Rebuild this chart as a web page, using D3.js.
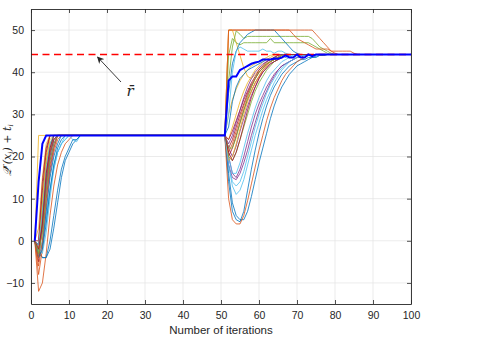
<!DOCTYPE html>
<html>
<head>
<meta charset="utf-8">
<script src="https://cdn.jsdelivr.net/npm/d3@7"></script>
<style>
  body { margin: 0; background: #fff; }
  svg { display: block; }
  text { font-family: "Liberation Sans", Arial, Helvetica, sans-serif; fill: #262626; }
</style>
</head>
<body>
<script>
// axis ticks
var xTicks = [0, 10, 20, 30, 40, 50, 60, 70, 80, 90, 100];
var yTicks = [-10, 0, 10, 20, 30, 40, 50];
var xLabel = "Number of iterations";

// reference level r-bar
var rBar = 44.2;
// level every agent holds after the first phase
var firstLevel = 25;
var phase2Start = 51;

// phase 1: values from iteration 1 until each run reaches 25
var phase1Runs = [
  [0, -2, -4, -4, -2, 3, 9, 15, 19, 21, 23, 24, 25],
  [0, -12, -10, -3, 6, 13, 18, 21, 23, 24, 25],
  [0, 25],
  [0, -1, 4, 12, 19, 23, 25],
  [0, -3, 6, 15, 21, 24, 25],
  [0, -2, -1, 5, 12, 18, 21, 23, 24, 25, 24, 23.5, 25],
  [0, -5, 5, 15, 21, 24, 25],
  [0, -3, -4, -4, 0, 6, 12, 17, 20, 22, 24, 24, 25],
  [0, -8, -2, 8, 16, 21, 24, 25],
  [0, -1, 10, 20, 25],
  [0, -2, 2, 10, 17, 22, 25],
  [0, -1, 8, 18, 23, 25],
  [0, -3, 0, 6, 12, 17, 21, 23, 24, 25],
  [0, -1, 12, 21, 25],
  [0, -4, -1, 7, 15, 20, 23, 25],
  [0, -6, 0, 10, 18, 22, 25],
  [0, 3, 15, 23, 25],
  [0, -2, 6, 16, 22, 25],
  [0, -1, 5, 14, 21, 25],
  [0, -2, -3, 2, 10, 17, 21, 23, 25],
  [0, 0, 14, 22, 25],
  [0, -4, -2, 4, 12, 18, 22, 24, 25],
  [0, -4, 4, 14, 21, 24, 25],
  [0, -2, 9, 19, 24, 25],
  [0, -1, 3, 13, 20, 24, 25],
  [0, -3, 2, 12, 19, 23, 25],
  [0, -1, 7, 17, 23, 25],
  [0, -2, 4, 16, 22, 25]
];

// phase 2: values from iteration 51 until each run reaches r-bar
var phase2Runs = [
  [25, 14, 7, 5, 4.5, 7, 12, 17, 21.5, 25.5, 29, 32, 34.5, 36.5, 38, 39.5, 40.5, 41.5, 42, 42.5, 43, 43, 43.5, 43.5, 43.8, 44, 44, 44.2],
  [25, 50, 50, 50, 50, 50, 50, 50, 50, 50, 50, 50, 50, 50, 50, 50, 50, 50, 50, 50, 50, 50, 50, 50, 49, 48, 47, 46, 45, 45, 45, 45, 45, 45, 44.5, 44.2],
  [25, 50, 50, 47, 44, 41, 39, 38.5, 39.5, 40.5, 41.5, 42.5, 43, 43.5, 44, 44.2],
  [25, 20, 16, 15, 17, 20, 23.5, 27, 30, 32.5, 34.5, 36.5, 38, 39.5, 40.5, 41.5, 42, 42.5, 43, 43.5, 44, 44.2],
  [25, 38, 46, 49.8, 49, 48, 48.5, 48.5, 48.5, 48.5, 48.5, 48.5, 48.5, 48.5, 48.5, 48.5, 48.5, 48.5, 48.5, 48.5, 48.5, 48.5, 48.5, 48, 47, 46, 45.5, 45, 44.5, 44.2],
  [25, 18, 13, 11, 12, 14.5, 18, 21.5, 25, 28, 31, 33.5, 35.5, 37.5, 39, 40.5, 41.5, 42.5, 43, 43.5, 44, 44, 44.2],
  [25, 22, 24, 27, 30, 32.5, 35, 37, 38.5, 40, 41, 42, 42.5, 43, 43.5, 44, 44.2],
  [25, 16, 9, 6, 5, 5, 7, 10.5, 14.5, 18.5, 22, 25.5, 29, 32, 34.5, 36.5, 38, 39.5, 40.5, 41.5, 42, 42.5, 43, 43.5, 43.5, 44, 44, 44.2],
  [25, 10, 5, 4, 4, 6, 9.5, 13.5, 17.5, 21.5, 25, 28.5, 31.5, 34, 36, 38, 39.5, 40.5, 41.5, 42.5, 43, 43.5, 44, 44.2],
  [25, 24, 27, 30, 33, 35.5, 37.5, 39, 40.5, 41.5, 42.5, 43, 43.5, 44, 44.2],
  [25, 22, 20, 22.5, 26, 29, 32, 34.5, 36.5, 38.5, 40, 41, 42, 42.5, 43, 43.5, 44, 44.2],
  [25, 44, 48, 47, 46.5, 47, 47, 47, 47, 47, 47, 47, 48, 47, 47, 47, 47, 47, 47, 47, 47, 47, 47, 46.5, 46, 45.5, 45, 44.5, 44.2],
  [25, 20, 16, 16, 18.5, 22, 25.5, 28.5, 31.5, 34, 36, 38, 39.5, 40.5, 41.5, 42.5, 43, 43.5, 44, 44.2],
  [25, 20, 22, 25, 28, 31, 33.5, 35.5, 37.5, 39, 40.5, 41.5, 42.5, 43, 43.5, 44, 44.2],
  [25, 35, 42, 45, 47, 48, 49, 49.5, 50, 50, 50, 50, 50, 50, 49, 48, 47, 46, 45, 44.5, 44.2],
  [25, 50, 50, 50, 50, 50, 50, 50, 50, 50, 50, 50, 50, 50, 50, 50, 50, 50, 49, 48, 47.5, 47, 46.5, 46, 45.5, 45.5, 45.5, 45.5, 45, 44.5, 44.2],
  [25, 30, 33.5, 36, 38, 39.5, 40.5, 41.5, 42, 42.5, 43, 43.5, 44, 44.2],
  [25, 18, 15, 14.5, 16, 18.5, 21.5, 25, 28, 31, 33.5, 35.5, 37.5, 39, 40.5, 41.5, 42, 42.5, 43, 43.5, 43.5, 44, 44.2],
  [25, 20, 19, 21, 24, 27, 30, 33, 35.5, 37.5, 39, 40.5, 41.5, 42.5, 43, 43.5, 44, 44.2],
  [25, 30, 40, 45, 46, 45.5, 45, 45, 45, 45, 45.5, 45, 45, 44.5, 45, 45, 44.5, 44.2],
  [25, 24, 26, 28.5, 31, 33.5, 35.5, 37.5, 39, 40.5, 41.5, 42.5, 43, 43.5, 44, 44.2],
  [25, 27, 33, 36.5, 38.5, 39.5, 40.5, 41, 41.5, 42, 42.5, 43, 43, 43.5, 43.5, 44, 43.5, 44, 44.2],
  [25, 21, 23, 26, 29, 32, 34.5, 36.5, 38.5, 40, 41, 42, 42.5, 43, 43.5, 44, 44.2],
  [25, 19, 20, 23, 26.5, 30, 33, 35.5, 37.5, 39, 40.5, 41.5, 42.5, 43, 43.5, 44, 44.2],
  [25, 23, 25, 28, 31, 34, 36.5, 38.5, 40, 41, 42, 42.5, 43, 43.5, 44, 44.2],
  [25, 22, 22, 24.5, 28, 31, 34, 36.5, 38.5, 40, 41, 42, 42.5, 43, 43.5, 44, 44.2],
  [25, 18, 14, 13, 14, 16.5, 20, 23.5, 27, 30, 32.5, 35, 37, 38.5, 40, 41, 42, 42.5, 43, 43.5, 44, 44, 44.2],
  [25, 21, 19, 21, 24, 27.5, 31, 34, 36.5, 38.5, 40, 41, 42, 42.5, 43, 43.5, 44, 44.2]
];

// thick blue run
var meanPhase1 = [0, 14, 23, 25];
var meanPhase2 = [25, 38, 39, 39, 40.5, 41, 41.5, 42, 42.3, 42.5, 43, 43, 43, 43.2, 43.2, 43.5, 44, 43.5, 43.5, 44.2, 43.5, 43.5, 44.2, 43.8, 44.2];

var matlabColors = ["#0072BD", "#D95319", "#EDB120", "#7E2F8E", "#77AC30", "#4DBEEE", "#A2142F"];

var W = 480, H = 338;
var svg = d3.select("body").append("svg").attr("width", W).attr("height", H);

var x = d3.scaleLinear().domain([0, 100]).range([31, 411]);
var y = d3.scaleLinear().domain([-15, 55]).range([304, 9]);

// grid
var grid = svg.append("g").attr("stroke", "#e3e3e3").attr("stroke-width", 0.7);
grid.selectAll("line.gx").data(xTicks).enter().append("line")
  .attr("x1", d => x(d)).attr("x2", d => x(d)).attr("y1", y(55)).attr("y2", y(-15));
grid.selectAll("line.gy").data(yTicks).enter().append("line")
  .attr("y1", d => y(d)).attr("y2", d => y(d)).attr("x1", x(0)).attr("x2", x(100));

// build a full run from its two phases (held at 25 until iteration 51, at r-bar after converging)
function buildRun(p1, p2) {
  var pts = p1.map((v, i) => [i + 1, v]);
  pts.push([phase2Start, firstLevel]);
  p2.forEach((v, i) => pts.push([phase2Start + i, v]));
  pts.push([100, rBar]);
  return pts;
}

var line = d3.line().x(d => x(d[0])).y(d => y(d[1]));

svg.append("g").selectAll("path").data(phase1Runs.map((p, i) => buildRun(p, phase2Runs[i])))
  .enter().append("path")
  .attr("d", line)
  .attr("fill", "none")
  .attr("stroke", (d, i) => matlabColors[i % 7])
  .attr("stroke-width", 0.8);

// r-bar dashed line
svg.append("line")
  .attr("x1", x(0)).attr("x2", x(100)).attr("y1", y(rBar)).attr("y2", y(rBar))
  .attr("stroke", "#ff0000").attr("stroke-width", 1.6).attr("stroke-dasharray", "7,4.5");

// thick blue run
svg.append("path").datum(buildRun(meanPhase1, meanPhase2))
  .attr("d", line).attr("fill", "none").attr("stroke", "#0000ff").attr("stroke-width", 2);

// axes box with inward ticks on all sides
var axisG = svg.append("g");
axisG.append("g").attr("transform", "translate(0," + y(-15) + ")")
  .call(d3.axisBottom(x).tickValues(xTicks).tickSizeInner(-4).tickSizeOuter(0).tickPadding(8));
axisG.append("g").attr("transform", "translate(0," + y(55) + ")")
  .call(d3.axisTop(x).tickValues(xTicks).tickSizeInner(-4).tickSizeOuter(0).tickFormat(""));
axisG.append("g").attr("transform", "translate(" + x(0) + ",0)")
  .call(d3.axisLeft(y).tickValues(yTicks).tickSizeInner(-4).tickSizeOuter(0).tickPadding(7));
axisG.append("g").attr("transform", "translate(" + x(100) + ",0)")
  .call(d3.axisRight(y).tickValues(yTicks).tickSizeInner(-4).tickSizeOuter(0).tickFormat(""));
axisG.selectAll(".domain").attr("stroke", "#262626").attr("stroke-width", 0.9);
axisG.selectAll(".tick line").attr("stroke", "#262626").attr("stroke-width", 0.8);
axisG.selectAll(".tick text").attr("font-size", 10.5).attr("fill", "#262626")
  .style("font-family", "'Liberation Sans', Arial, sans-serif");

// x label
svg.append("text").attr("x", x(50)).attr("y", 334).attr("text-anchor", "middle")
  .attr("font-size", 11.5).text(xLabel);

// y label
var ylab = svg.append("text")
  .attr("transform", "translate(11,150) rotate(-90)")
  .attr("text-anchor", "middle")
  .attr("font-size", 11)
  .style("font-family", "'DejaVu Serif', serif").style("font-style", "italic");
ylab.append("tspan").text("\u{1D4AC}");
ylab.append("tspan").attr("dy", -4).attr("font-size", 7).text("r");
ylab.append("tspan").attr("dy", 4).text("(x");
ylab.append("tspan").attr("dy", 2).attr("font-size", 7).text("i");
ylab.append("tspan").attr("dy", -2).text(") + t");
ylab.append("tspan").attr("dy", 2).attr("font-size", 7).text("i");

// arrow annotation
var defs = svg.append("defs");
defs.append("marker").attr("id", "ah").attr("viewBox", "0 0 10 10")
  .attr("refX", 9).attr("refY", 5).attr("markerWidth", 7).attr("markerHeight", 7)
  .attr("orient", "auto").attr("markerUnits", "userSpaceOnUse")
  .append("path").attr("d", "M0,0 L10,5 L0,10 L3,5 Z").attr("fill", "#262626");
svg.append("line").attr("x1", 121).attr("y1", 82).attr("x2", 97.5).attr("y2", 57)
  .attr("stroke", "#262626").attr("stroke-width", 0.9).attr("marker-end", "url(#ah)");
svg.append("text").attr("x", 130).attr("y", 96).attr("text-anchor", "middle")
  .attr("font-size", 15).style("font-family", "'DejaVu Serif', serif").style("font-style", "italic")
  .text("r\u0304");
</script>
</body>
</html>
